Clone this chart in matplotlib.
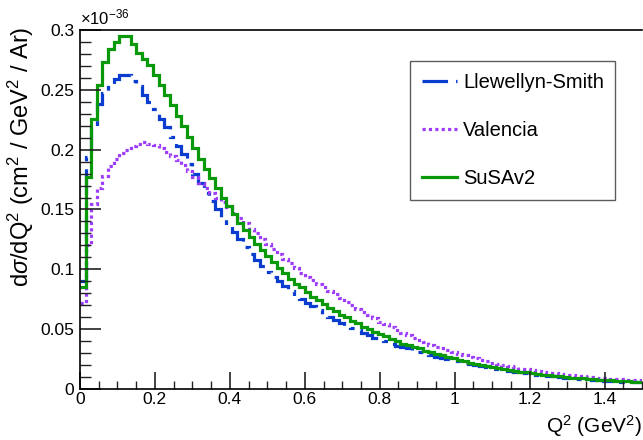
import numpy as np
import matplotlib
matplotlib.use('Agg')
import matplotlib.pyplot as plt
from matplotlib.ticker import MultipleLocator, FuncFormatter

plt.rcParams['font.family'] = ['Liberation Sans', 'DejaVu Sans']
plt.rcParams['mathtext.fontset'] = 'custom'
plt.rcParams['mathtext.rm'] = 'Liberation Sans'
plt.rcParams['mathtext.it'] = 'Liberation Sans:italic'

# bins in Q^2 (GeV^2), 100 bins from 0 to 1.5
q2_edges = np.linspace(0.0, 1.5, 101)

# dsigma/dQ^2 in units of 1e-36 cm^2 / GeV^2 / Ar
llewellyn_smith = [
    0.090, 0.194, 0.218, 0.238, 0.247, 0.255, 0.259, 0.262, 0.262, 0.257,
    0.253, 0.246, 0.240, 0.234, 0.226, 0.219, 0.211, 0.203, 0.196, 0.188,
    0.180, 0.172, 0.164, 0.157, 0.150, 0.143, 0.137, 0.131, 0.125, 0.119,
    0.113, 0.108, 0.103, 0.098, 0.094, 0.090, 0.086, 0.082, 0.078, 0.075,
    0.072, 0.069, 0.066, 0.063, 0.060, 0.058, 0.055, 0.053, 0.051, 0.049,
    0.047, 0.045, 0.043, 0.041, 0.040, 0.038, 0.036, 0.035, 0.034, 0.032,
    0.031, 0.029, 0.028, 0.027, 0.026, 0.025, 0.024, 0.023, 0.022, 0.021,
    0.020, 0.019, 0.018, 0.017, 0.0165, 0.016, 0.015, 0.0145, 0.014, 0.013,
    0.0125, 0.012, 0.0115, 0.011, 0.0105, 0.010, 0.0095, 0.009, 0.0087, 0.0083,
    0.008, 0.0077, 0.0074, 0.007, 0.0068, 0.0065, 0.0062, 0.006, 0.0057, 0.0055,
]
valencia = [
    0.072, 0.120, 0.155, 0.168, 0.178, 0.186, 0.192, 0.197, 0.200, 0.203,
    0.205, 0.206, 0.205, 0.204, 0.201, 0.198, 0.195, 0.191, 0.187, 0.182,
    0.177, 0.172, 0.168, 0.164, 0.160, 0.156, 0.152, 0.147, 0.143, 0.139,
    0.134, 0.130, 0.125, 0.121, 0.117, 0.113, 0.109, 0.105, 0.101, 0.097,
    0.094, 0.091, 0.088, 0.085, 0.082, 0.079, 0.076, 0.073, 0.070, 0.067,
    0.064, 0.062, 0.059, 0.056, 0.054, 0.052, 0.049, 0.047, 0.045, 0.043,
    0.041, 0.039, 0.037, 0.0355, 0.034, 0.0325, 0.031, 0.0295, 0.028, 0.027,
    0.0255, 0.024, 0.023, 0.022, 0.021, 0.020, 0.019, 0.018, 0.017, 0.0163,
    0.0155, 0.015, 0.0143, 0.0137, 0.013, 0.0125, 0.012, 0.0115, 0.011, 0.0105,
    0.010, 0.0097, 0.0093, 0.009, 0.0086, 0.0083, 0.008, 0.0077, 0.0075, 0.0072,
]
susav2 = [
    0.085, 0.177, 0.226, 0.254, 0.273, 0.284, 0.290, 0.295, 0.295, 0.288,
    0.281, 0.276, 0.271, 0.262, 0.254, 0.246, 0.237, 0.228, 0.220, 0.211,
    0.201, 0.192, 0.184, 0.176, 0.168, 0.160, 0.153, 0.146, 0.139, 0.133,
    0.127, 0.121, 0.116, 0.111, 0.106, 0.101, 0.097, 0.092, 0.088, 0.085,
    0.081, 0.077, 0.074, 0.071, 0.068, 0.065, 0.062, 0.060, 0.057, 0.055,
    0.052, 0.050, 0.048, 0.046, 0.044, 0.042, 0.040, 0.038, 0.037, 0.035,
    0.034, 0.032, 0.031, 0.029, 0.028, 0.027, 0.026, 0.024, 0.023, 0.022,
    0.021, 0.020, 0.019, 0.018, 0.0175, 0.017, 0.016, 0.015, 0.0145, 0.014,
    0.013, 0.0125, 0.012, 0.0115, 0.011, 0.0105, 0.010, 0.0095, 0.009, 0.0088,
    0.0085, 0.008, 0.0078, 0.0075, 0.0072, 0.007, 0.0067, 0.0064, 0.006, 0.0058,
]

labels = ['Llewellyn-Smith', 'Valencia', 'SuSAv2']

fig = plt.figure(figsize=(6.43, 4.40), dpi=100)
ax = fig.add_axes([80/643, 51/440, 562/643, 359/440])

lw = 2.3
ax.stairs(llewellyn_smith, q2_edges, baseline=None, color='#0a3ccf', lw=lw,
          linestyle=(0, (8, 2.5, 1.5, 2.5)), label=labels[0])
ax.stairs(valencia, q2_edges, baseline=None, color='#9d3dfa', lw=lw,
          linestyle=(0, (1, 1)), label=labels[1])
ax.stairs(susav2, q2_edges, baseline=None, color='#0a990a', lw=lw,
          label=labels[2])

ax.set_xlim(0, 1.5)
ax.set_ylim(0, 0.3)

# ROOT-ish axes: frame on left, bottom, top
for s in ['top', 'right']:
    ax.spines[s].set_visible(False)
ax.spines['left'].set_linewidth(1.2)
ax.spines['bottom'].set_linewidth(1.2)
ax.plot([0, 1.5], [0.3, 0.3], color='black', lw=1.2, clip_on=False)

ax.xaxis.set_major_locator(MultipleLocator(0.2))
ax.xaxis.set_minor_locator(MultipleLocator(0.05))
ax.yaxis.set_major_locator(MultipleLocator(0.05))
ax.yaxis.set_minor_locator(MultipleLocator(0.01))
fmt = FuncFormatter(lambda v, p: '%g' % round(v, 3))
ax.xaxis.set_major_formatter(fmt)
ax.yaxis.set_major_formatter(fmt)
ax.tick_params(which='both', direction='in', top=False, right=False,
               labelsize=12.5, color='#222222')
ax.tick_params(axis='y', which='major', length=15, width=1.2, pad=4)
ax.tick_params(axis='y', which='minor', length=8, width=1.0)
ax.tick_params(axis='x', which='major', length=12, width=1.2, pad=2.5)
ax.tick_params(axis='x', which='minor', length=6, width=1.0)

# axis titles placed ROOT-style (y at top end, x at right end)
fig.text(36/643, 1 - 27/440,
         r'd$\sigma$/dQ$^{2}$ (cm$^{2}$ / GeV$^{2}$ / Ar)',
         rotation=90, ha='right', va='top', fontsize=17)
fig.text(642/643, 1 - 433/440, r'Q$^{2}$ (GeV$^{2}$)',
         ha='right', va='baseline', fontsize=15)
ax.text(0.0, 1.006, r'$\times$10$^{-36}$', transform=ax.transAxes,
        fontsize=12, ha='left', va='bottom')

leg = ax.legend(loc='upper left', bbox_to_anchor=(0.587, 0.529, 0.365, 0.385),
                mode='expand', fontsize=14.5, frameon=True, fancybox=False,
                edgecolor='#333333', borderpad=0.6, labelspacing=1.45,
                handlelength=1.75, handletextpad=0.3, borderaxespad=0)
leg.get_frame().set_linewidth(1.0)

fig.savefig('out.png', dpi=100)
